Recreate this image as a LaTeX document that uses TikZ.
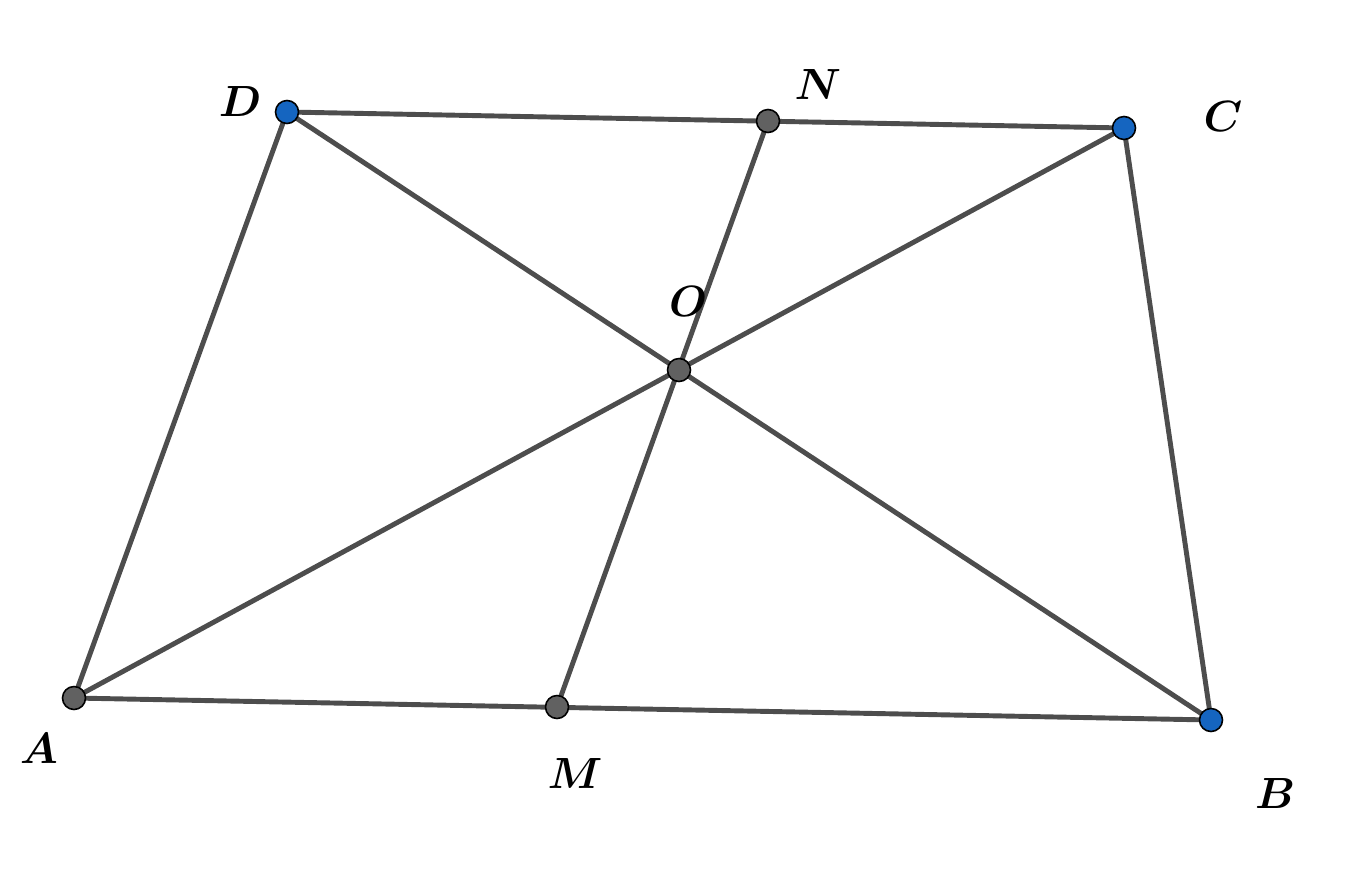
\documentclass[tikz,border=0pt]{standalone}
\usepackage{xcolor}
\usepackage{bm}
\definecolor{edgegray}{HTML}{4D4D4D}
\definecolor{ptgray}{HTML}{616161}
\definecolor{ptblue}{HTML}{1565C0}
\begin{document}
\begin{tikzpicture}[x=0.02cm,y=-0.02cm,line cap=round,line join=round,
  lbl/.style={font=\fontsize{25}{30}\selectfont},
  gdot/.style={fill=ptgray,draw=black,line width=.9pt},
  bdot/.style={fill=ptblue,draw=black,line width=.9pt}]
\useasboundingbox (0,0) rectangle (1361,875);
\coordinate (A) at (74,698);
\coordinate (B) at (1211,720);
\coordinate (C) at (1124,128);
\coordinate (D) at (287,112);
\coordinate (N) at (768,121);
\coordinate (M) at (557,707);
\coordinate (O) at (679,370);
\draw[edgegray,line width=2.8pt] (A)--(B)--(C)--(D)--cycle (A)--(C) (B)--(D) (M)--(N);
\path[gdot] (A) circle(11.5) (M) circle(11.5) (N) circle(11.5) (O) circle(11.5);
\path[bdot] (B) circle(11.5) (C) circle(11.5) (D) circle(11.5);
\node[lbl] (lA) at (39,748) {$\bm{A}$};
\node[lbl] (lB) at (1275,793) {$\bm{B}$};
\node[lbl] (lC) at (1223,117) {$\bm{C}$};
\node[lbl] (lD) at (240,102) {$\bm{D}$};
\node[lbl] (lN) at (818,85) {$\bm{N}$};
\node[lbl] (lM) at (575,773) {$\bm{M}$};
\node[lbl] (lO) at (688,302) {$\bm{O}$};
\end{tikzpicture}
\end{document}
